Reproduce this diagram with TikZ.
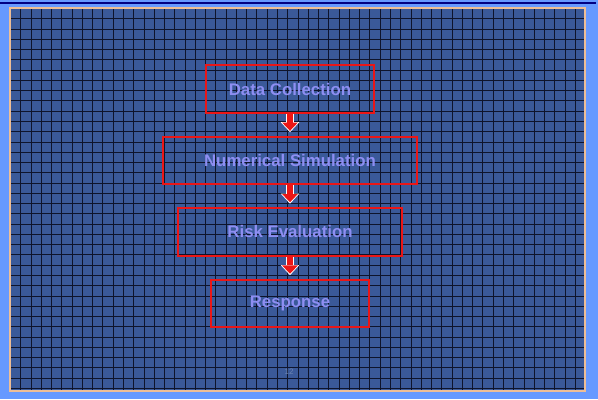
\documentclass[tikz,border=0pt]{standalone}
\usepackage{fontspec}
\setmainfont{Liberation Sans}
\usetikzlibrary{positioning, calc, arrows.meta}
\definecolor{slideblue}{RGB}{102,153,255}
\definecolor{panelblue}{RGB}{58,89,153}
\definecolor{gridnavy}{RGB}{14,20,44}
\definecolor{boxred}{RGB}{235,22,22}
\definecolor{labelblue}{RGB}{142,142,242}
\definecolor{paneledge}{RGB}{238,190,150}
\definecolor{topnavy}{RGB}{0,0,130}

\begin{document}
\begin{tikzpicture}[x=0.75pt, y=-0.75pt,
        node distance=16.6pt,
        stage/.style={rectangle, draw=boxred, line width=1.5pt, minimum height=35.5pt, align=center, text=labelblue, font=\fontsize{12.6}{15}\selectfont\bfseries},
        flowedge/.style={draw=white, line width=6.6pt, shorten >=-1.1pt, -{Triangle[width=14pt, length=7.6pt, line width=0pt 0]}},
        flowbody/.style={draw=boxred, line width=5.1pt, -{Triangle[width=11.8pt, length=6.2pt, line width=0pt 0]}}
    ]
        % slide background and grid panel
        \useasboundingbox (0,0) rectangle (598,399);
        \fill[slideblue] (0,0) rectangle (598,399);
        \draw[topnavy, line width=1.5pt] (0,3) -- (596,3);
        \fill[panelblue] (10,8) rectangle (585,391);
        \foreach \i in {1,...,55} {
            \pgfmathsetmacro{\gx}{10.5+round(10.27*\i)}
            \draw[gridnavy, line width=0.85pt] (\gx,8) -- (\gx,391);
        }
        \foreach \j in {1,...,37} {
            \pgfmathsetmacro{\gy}{8.5+round(10.27*\j)}
            \draw[gridnavy, line width=0.85pt] (10,\gy) -- (585,\gy);
        }
        \draw[paneledge, line width=0.9pt] (10,8) rectangle (585,391);

        % stages
        \node[stage, minimum width=126pt] (dc) at (290,89) {Data Collection};
        \node[stage, minimum width=190.5pt, below=of dc] (ns) {Numerical Simulation};
        \node[stage, minimum width=168.5pt, below=of ns] (re) {Risk Evaluation};
        \node[stage, minimum width=118.5pt, below=of re] (rs) {Response};

        \foreach \a/\b in {dc/ns, ns/re, re/rs} {
            \draw[flowedge] (\a.south) -- ($(\b.north)+(0,-5)$);
            \draw[flowbody] (\a.south) -- ($(\b.north)+(0,-5)$);
        }

        \node[text=panelblue!75!white, font=\fontsize{6}{7}\selectfont] (pgno) at (289,372) {12};
    \end{tikzpicture}
\end{document}
